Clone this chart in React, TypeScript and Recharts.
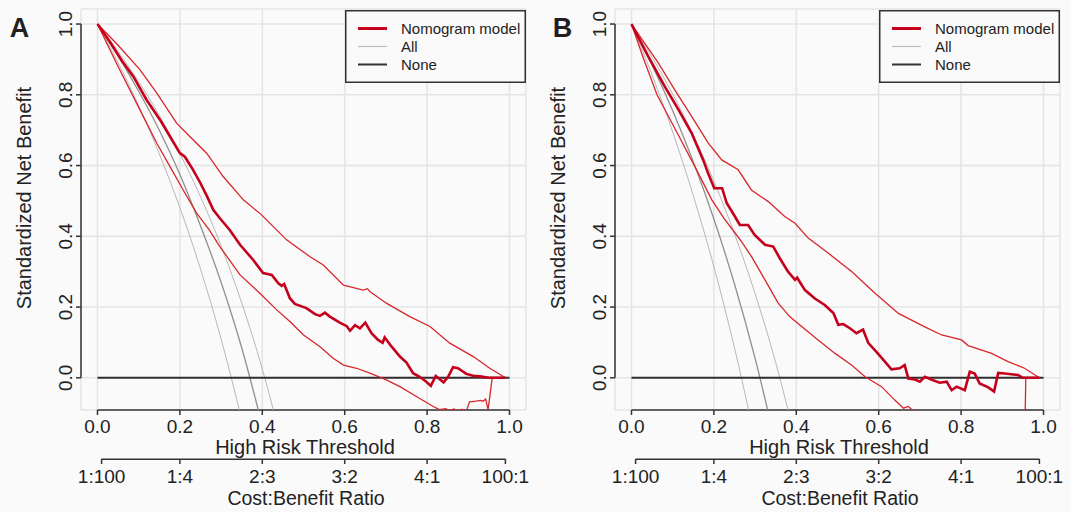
import {
  LineChart,
  Line,
  XAxis,
  YAxis,
  CartesianGrid,
  ReferenceLine,
  Legend,
} from "recharts";

type Pt = [number, number];

const FONT = "'Liberation Sans', Arial, Helvetica, sans-serif";

const thresholdTicks = [0, 0.2, 0.4, 0.6, 0.8, 1];
const benefitTicks = [0, 0.2, 0.4, 0.6, 0.8, 1];
const ratioTicks = [0.01, 0.2, 0.4, 0.6, 0.8, 0.99];
const ratioLabels = ["1:100", "1:4", "2:3", "3:2", "4:1", "100:1"];
const legendNames = ["Nomogram model", "All", "None"];

const noneLine: Pt[] = [[0, 0], [1, 0]];

// panel A (training)
const modelA: Pt[] = [
  [0, 1], [0.03, 0.95], [0.06, 0.895], [0.087, 0.852], [0.119, 0.786], [0.152, 0.729],
  [0.176, 0.682], [0.2, 0.635], [0.212, 0.625], [0.232, 0.588], [0.25, 0.55], [0.265, 0.515],
  [0.281, 0.475], [0.297, 0.451], [0.321, 0.418], [0.346, 0.376], [0.378, 0.333], [0.402, 0.296],
  [0.423, 0.291], [0.439, 0.267], [0.447, 0.26], [0.453, 0.265], [0.467, 0.225], [0.479, 0.209],
  [0.507, 0.197], [0.528, 0.18], [0.54, 0.175], [0.552, 0.184], [0.564, 0.173], [0.588, 0.156],
  [0.605, 0.146], [0.613, 0.133], [0.625, 0.149], [0.637, 0.14], [0.65, 0.156], [0.665, 0.126],
  [0.681, 0.107], [0.692, 0.099], [0.697, 0.114], [0.714, 0.088], [0.734, 0.06], [0.75, 0.043],
  [0.766, 0.013], [0.782, 0.003], [0.798, -0.011], [0.809, -0.023], [0.821, 0.005], [0.831, -0.004],
  [0.84, -0.013], [0.851, 0.003], [0.863, 0.03], [0.875, 0.027], [0.895, 0.011], [0.912, 0.006],
  [0.928, 0.004], [0.95, 0], [0.99, 0],
];
const modelHighA: Pt[] = [
  [0, 1], [0.05, 0.94], [0.103, 0.871], [0.144, 0.805], [0.192, 0.72], [0.224, 0.682],
  [0.265, 0.635], [0.305, 0.569], [0.354, 0.503], [0.397, 0.462], [0.459, 0.39], [0.516, 0.342],
  [0.548, 0.319], [0.597, 0.262], [0.645, 0.248], [0.655, 0.252], [0.661, 0.244], [0.701, 0.211],
  [0.758, 0.173], [0.807, 0.145], [0.855, 0.098], [0.912, 0.06], [0.952, 0.027], [0.99, 0],
];
const modelLowA: Pt[] = [
  [0, 1], [0.05, 0.88], [0.111, 0.739], [0.144, 0.663], [0.176, 0.597], [0.208, 0.531],
  [0.241, 0.465], [0.27, 0.42], [0.297, 0.371], [0.346, 0.291], [0.394, 0.239], [0.435, 0.192],
  [0.467, 0.159], [0.5, 0.121], [0.54, 0.088], [0.572, 0.055], [0.597, 0.036], [0.629, 0.027],
  [0.661, 0.013], [0.701, -0.006], [0.734, -0.025], [0.774, -0.053], [0.815, -0.081], [0.83, -0.09],
  [0.845, -0.087], [0.855, -0.093], [0.865, -0.088], [0.875, -0.094], [0.885, -0.089], [0.895, -0.095],
  [0.903, -0.068], [0.919, -0.066], [0.93, -0.064], [0.936, -0.066], [0.942, -0.06], [0.948, -0.09],
  [0.958, 0], [0.99, 0],
];
const allA: Pt[] = [
  [0, 1], [0.05, 0.91], [0.1, 0.81], [0.15, 0.7], [0.2, 0.575], [0.25, 0.43], [0.3, 0.27],
  [0.35, 0.085], [0.4, -0.135],
];
const allLowA: Pt[] = [
  [0, 1], [0.05, 0.891], [0.1, 0.769], [0.15, 0.633], [0.2, 0.481], [0.25, 0.308], [0.3, 0.11],
  [0.35, -0.118],
];
const allHighA: Pt[] = [
  [0, 1], [0.05, 0.923], [0.1, 0.837], [0.15, 0.742], [0.2, 0.634], [0.25, 0.512], [0.3, 0.373],
  [0.35, 0.212], [0.4, 0.025], [0.45, -0.197],
];

// panel B (validation)
const modelB: Pt[] = [
  [0, 1], [0.04, 0.91], [0.081, 0.823], [0.114, 0.758], [0.146, 0.692], [0.174, 0.616],
  [0.186, 0.578], [0.201, 0.536], [0.22, 0.536], [0.231, 0.494], [0.251, 0.456], [0.263, 0.432],
  [0.283, 0.432], [0.299, 0.404], [0.324, 0.376], [0.344, 0.371], [0.36, 0.338], [0.38, 0.3],
  [0.397, 0.277], [0.402, 0.283], [0.421, 0.248], [0.445, 0.224], [0.469, 0.206], [0.49, 0.183],
  [0.502, 0.15], [0.514, 0.152], [0.53, 0.14], [0.546, 0.126], [0.562, 0.136], [0.575, 0.098],
  [0.594, 0.074], [0.615, 0.046], [0.631, 0.024], [0.651, 0.027], [0.663, 0.036], [0.672, -0.002],
  [0.688, -0.005], [0.7, -0.011], [0.712, 0.003], [0.732, -0.007], [0.748, -0.014], [0.765, -0.011],
  [0.777, -0.035], [0.789, -0.025], [0.809, -0.035], [0.821, 0.017], [0.833, 0.012], [0.845, -0.016],
  [0.866, -0.027], [0.88, -0.039], [0.89, 0.014], [0.906, 0.012], [0.938, 0.008], [0.95, 0],
  [0.99, 0],
];
const modelHighB: Pt[] = [
  [0, 1], [0.065, 0.89], [0.105, 0.814], [0.146, 0.739], [0.186, 0.664], [0.219, 0.616],
  [0.259, 0.588], [0.291, 0.531], [0.332, 0.498], [0.372, 0.456], [0.397, 0.437], [0.429, 0.395],
  [0.478, 0.352], [0.535, 0.3], [0.591, 0.239], [0.648, 0.182], [0.712, 0.144], [0.753, 0.121],
  [0.801, 0.107], [0.817, 0.091], [0.874, 0.069], [0.914, 0.046], [0.954, 0.027], [0.99, 0],
];
const modelLowB: Pt[] = [
  [0, 1], [0.03, 0.9], [0.062, 0.8], [0.112, 0.69], [0.154, 0.597], [0.195, 0.503],
  [0.225, 0.45], [0.251, 0.41], [0.27, 0.38], [0.291, 0.343], [0.324, 0.277], [0.356, 0.211],
  [0.384, 0.173], [0.413, 0.145], [0.453, 0.107], [0.494, 0.069], [0.534, 0.036], [0.567, 0.003],
  [0.607, -0.025], [0.639, -0.063], [0.66, -0.086], [0.672, -0.081], [0.69, -0.1], [0.75, -0.16],
  [0.85, -0.2], [0.954, -0.2], [0.957, 0], [0.99, 0],
];
const allB: Pt[] = [
  [0, 1], [0.05, 0.884], [0.1, 0.755], [0.15, 0.611], [0.2, 0.449], [0.25, 0.265], [0.3, 0.055],
  [0.35, -0.187],
];
const allLowB: Pt[] = [
  [0, 1], [0.05, 0.856], [0.1, 0.695], [0.15, 0.515], [0.2, 0.314], [0.25, 0.085], [0.3, -0.176],
];
const allHighB: Pt[] = [
  [0, 1], [0.05, 0.906], [0.1, 0.802], [0.15, 0.686], [0.2, 0.556], [0.25, 0.407], [0.3, 0.238],
  [0.35, 0.043], [0.4, -0.185],
];

const rows = (pts: Pt[]) => pts.map(([x, y]) => ({ x, y }));

function YTick(props: any) {
  const { x, y, payload } = props;
  return (
    <text
      x={x}
      y={y}
      transform={`rotate(-90 ${x} ${y})`}
      textAnchor="middle"
      fontSize={19}
      fill="#222"
      fontFamily={FONT}
    >
      {Number(payload.value).toFixed(1)}
    </text>
  );
}

function LegendBox() {
  const colors = ["#c8001e", "#bdbdbd", "#333"];
  const widths = [3, 1.2, 2];
  return (
    <svg width={181} height={73} style={{ display: "block" }}>
      <rect x={0.75} y={0.75} width={179.5} height={71.5} fill="#fafafa" stroke="#333" strokeWidth={1.5} />
      {legendNames.map((name, i) => (
        <g key={name}>
          <line x1={13} x2={42} y1={18.5 + i * 18} y2={18.5 + i * 18} stroke={colors[i]} strokeWidth={widths[i]} />
          <text x={56} y={24 + i * 18} fontSize={15} fill="#222" fontFamily={FONT}>
            {name}
          </text>
        </g>
      ))}
    </svg>
  );
}

interface PanelProps {
  letter: string;
  letterX: number;
  model: Pt[];
  modelLow: Pt[];
  modelHigh: Pt[];
  all: Pt[];
  allLow: Pt[];
  allHigh: Pt[];
}

function Panel({ letter, letterX, model, modelLow, modelHigh, all, allLow, allHigh }: PanelProps) {
  const tickStyle = { fontSize: 19, fill: "#222", fontFamily: FONT };
  return (
    <div style={{ position: "relative", width: 534, height: 512 }}>
      <LineChart width={534} height={512} margin={{ top: 9, right: 8, bottom: 13, left: 0 }}>
        <CartesianGrid stroke="#e4e4e4" strokeWidth={1.5} />
        <XAxis
          type="number"
          dataKey="x"
          domain={[-0.04, 1.04]}
          allowDataOverflow
          ticks={thresholdTicks}
          tickFormatter={(v: number) => v.toFixed(1)}
          height={49}
          axisLine={false}
          tickSize={5}
          tickMargin={4.5}
          tickLine={{ stroke: "#333", strokeWidth: 1.5 }}
          tick={tickStyle}
        />
        <XAxis
          xAxisId="ratio"
          type="number"
          dataKey="x"
          domain={[-0.04, 1.04]}
          allowDataOverflow
          ticks={ratioTicks}
          tickFormatter={(v: number) => ratioLabels[ratioTicks.indexOf(v)] ?? ""}
          height={40}
          axisLine={false}
          tickSize={5}
          tickMargin={5.5}
          tickLine={{ stroke: "#333", strokeWidth: 1.5 }}
          tick={tickStyle}
        />
        <YAxis
          type="number"
          domain={[-0.091, 1.0425]}
          allowDataOverflow
          ticks={benefitTicks}
          width={81}
          axisLine={false}
          tickSize={5}
          tickMargin={4}
          tickLine={{ stroke: "#333", strokeWidth: 1.5 }}
          tick={(p: any) => <YTick {...p} />}
        />
        <ReferenceLine segment={[{ x: 0, y: -0.091 }, { x: 1, y: -0.091 }]} stroke="#333" strokeWidth={1.5} ifOverflow="visible" />
        <ReferenceLine segment={[{ x: 0.01, y: -0.2305 }, { x: 0.99, y: -0.2305 }]} stroke="#333" strokeWidth={1.5} ifOverflow="visible" />
        <ReferenceLine segment={[{ x: -0.04, y: 0 }, { x: -0.04, y: 1 }]} stroke="#333" strokeWidth={1.5} ifOverflow="visible" />
        <Legend
          layout="horizontal"
          verticalAlign="middle"
          align="center"
          content={() => <LegendBox />}
          wrapperStyle={{ left: 345, top: 10, width: 181, height: 73 }}
        />
        <Line data={rows(allLow)} dataKey="y" type="monotone" stroke="#b8b8b8" strokeWidth={1} dot={false} isAnimationActive={false} legendType="none" />
        <Line data={rows(allHigh)} dataKey="y" type="monotone" stroke="#b8b8b8" strokeWidth={1} dot={false} isAnimationActive={false} legendType="none" />
        <Line data={rows(all)} dataKey="y" name="All" type="monotone" stroke="#8f8f8f" strokeWidth={1.3} dot={false} isAnimationActive={false} />
        <Line data={rows(noneLine)} dataKey="y" name="None" type="linear" stroke="#2f2f2f" strokeWidth={2} dot={false} isAnimationActive={false} />
        <Line data={rows(modelLow)} dataKey="y" type="linear" stroke="#d8262c" strokeWidth={1.3} dot={false} isAnimationActive={false} legendType="none" />
        <Line data={rows(modelHigh)} dataKey="y" type="linear" stroke="#d8262c" strokeWidth={1.3} dot={false} isAnimationActive={false} legendType="none" />
        <Line data={rows(model)} dataKey="y" name="Nomogram model" type="linear" stroke="#c4001c" strokeWidth={2.6} dot={false} isAnimationActive={false} />
      </LineChart>
      <svg width={534} height={512} style={{ position: "absolute", left: 0, top: 0, pointerEvents: "none" }}>
        <text x={letterX} y={37} textAnchor="middle" fontSize={27} fontWeight="bold" fill="#231f20" fontFamily={FONT}>
          {letter}
        </text>
        <text x={305} y={454} textAnchor="middle" fontSize={20} fill="#222" fontFamily={FONT}>
          High Risk Threshold
        </text>
        <text x={306} y={505} textAnchor="middle" fontSize={19.5} fill="#222" fontFamily={FONT}>
          Cost:Benefit Ratio
        </text>
        <text x={31} y={198} textAnchor="middle" fontSize={20} fill="#222" fontFamily={FONT} transform="rotate(-90 31 198)">
          Standardized Net Benefit
        </text>
      </svg>
    </div>
  );
}

export default function App() {
  return (
    <div style={{ position: "absolute", left: 0, top: 0, width: 1071, height: 512, background: "#fafafa" }}>
      <div style={{ position: "absolute", left: 0, top: 0 }}>
        <Panel letter="A" letterX={19.5} model={modelA} modelLow={modelLowA} modelHigh={modelHighA} all={allA} allLow={allLowA} allHigh={allHighA} />
      </div>
      <div style={{ position: "absolute", left: 534, top: 0 }}>
        <Panel letter="B" letterX={28.5} model={modelB} modelLow={modelLowB} modelHigh={modelHighB} all={allB} allLow={allLowB} allHigh={allHighB} />
      </div>
    </div>
  );
}
